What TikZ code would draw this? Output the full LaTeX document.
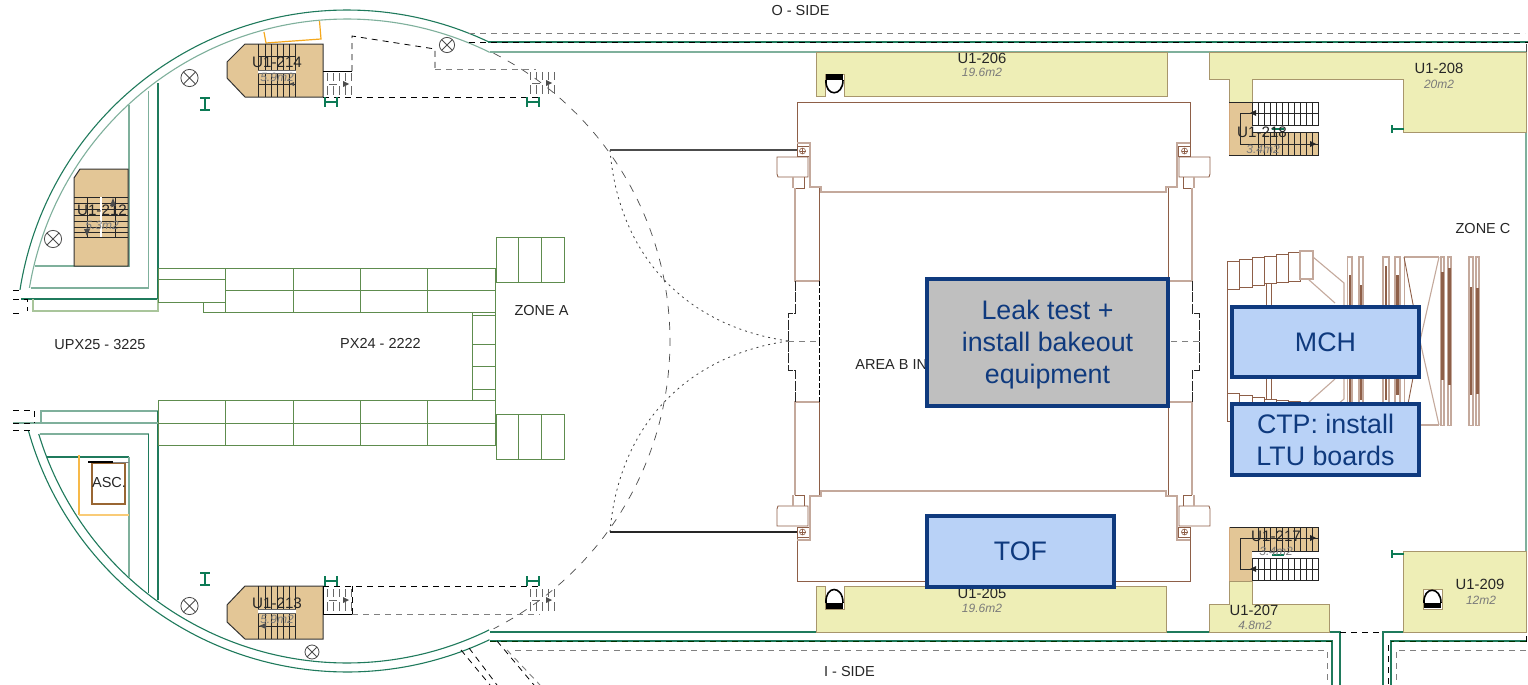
\documentclass[tikz,border=0pt]{standalone}
\usepackage{fontspec}
\setmainfont{Liberation Sans}
\definecolor{wallg}{HTML}{1F7A5C}
\definecolor{walll}{HTML}{7FB09C}
\definecolor{gridg}{HTML}{5E8C4E}
\definecolor{gridl}{HTML}{A9C59B}
\definecolor{brn}{HTML}{8E5F48}
\definecolor{brnl}{HTML}{C4A99C}
\definecolor{roomy}{HTML}{EEEEB6}
\definecolor{roomb}{HTML}{A8966C}
\definecolor{tanr}{HTML}{E3C696}
\definecolor{boxb}{HTML}{0F3A7E}
\definecolor{boxf}{HTML}{B9D2F7}
\definecolor{orng}{HTML}{F5A81C}
\definecolor{txtg}{HTML}{7A7A7A}
\definecolor{doorg}{HTML}{0C7A55}
\tikzset{
  wallD/.style={draw=wallg,line width=0.55pt},
  wallL/.style={draw=walll,line width=0.55pt},
  gridline/.style={draw=gridg,line width=0.5pt},
  br/.style={draw=brn,line width=0.45pt},
  brl/.style={draw=brnl,line width=0.55pt},
  dashK/.style={draw=black,line width=0.4pt,dash pattern=on 3pt off 2.5pt},
  dashG/.style={draw=gray,line width=0.45pt,dash pattern=on 3pt off 2.5pt},
  room/.style={fill=roomy,draw=roomb,line width=0.5pt},
  tanroom/.style={fill=tanr,draw=black!80,line width=0.5pt},
  lbl/.style={font=\fontsize{7.25}{8}\selectfont,text=black!85,inner sep=0pt},
  sub/.style={font=\fontsize{6}{7}\selectfont\itshape,text=txtg,inner sep=0pt},
  bigbox/.style={draw=boxb,line width=2pt,fill=boxf,text=boxb,align=center,
     font=\fontsize{13.4}{15.9}\selectfont,inner sep=0pt,anchor=north west},
  tread/.style={draw=black!85,line width=0.35pt},
  tick/.style={draw=gray!80!black,line width=0.35pt},
  door/.style={draw=doorg,line width=0.65pt},
  xmark/.style={draw=black!70,line width=0.4pt,fill=white},
}
\newcommand{\xcirc}[3]{%
  \draw[xmark] (#1,#2) circle[radius=#3];
  \draw[xmark] (#1-0.7*#3,#2-0.7*#3) -- (#1+0.7*#3,#2+0.7*#3) (#1-0.7*#3,#2+0.7*#3) -- (#1+0.7*#3,#2-0.7*#3);}
\newcommand{\vdoor}[3]{% x, y-top, width : H mark
  \draw[door] (#1,#2) -- (#1,#2+10) (#1+#3,#2) -- (#1+#3,#2+10) (#1,#2+5) -- (#1+#3,#2+5);}
\newcommand{\idoor}[2]{%
  \draw[door] (#1-5,#2-6) -- (#1+5,#2-6) (#1-5,#2+6) -- (#1+5,#2+6) (#1,#2-6) -- (#1,#2+6);}
\newcommand{\minstair}[2]{% x, y-top
  \foreach \d in {4,10,16,22,28}{
    \draw[tick] (#1+\d,#2+1) -- (#1+\d,#2+9) (#1+\d,#2+14) -- (#1+\d,#2+23);}
  \draw[tick] (#1+6,#2+12) -- (#1+14,#2+12);
  \fill[black!70] (#1+26,#2+12) -- (#1+20,#2+9) -- (#1+20,#2+15) -- cycle;}
\begin{document}
\begin{tikzpicture}[x=0.5pt,y=-0.5pt]
\useasboundingbox (0,0) rectangle (1528,685);
\fill[white] (0,0) rectangle (1528,685);

% ---- outer walls: arcs
\draw[wallD] plot[domain=188.9:295.2,samples=90] ({347+331*cos(\x)},{341+331*sin(\x)});
\draw[wallL] plot[domain=189.5:296.3,samples=90] ({347+322*cos(\x)},{341+322*sin(\x)});
\draw[wallD] plot[domain=164.3:64.5,samples=90] ({347+331*cos(\x)},{341+331*sin(\x)});
\draw[wallD] plot[domain=163.2:63.8,samples=90] ({347+322*cos(\x)},{341+322*sin(\x)});
\draw[draw=black!70,line width=0.35pt,dash pattern=on 4pt off 4pt]
  plot[domain=297:423,samples=70] ({347+323*cos(\x)},{341+323*sin(\x)});

% ---- O side
\draw[dashG] (469,33) -- (1525,33);
\draw[wallD] (488,42) -- (1528,42);
\draw[dashK] (469,42) -- (1528,42);
\draw[wallL] (490,52) -- (1526,52);
\draw[wallL] (1526,52) -- (1526,632);
\draw[black!70,line width=0.4pt] (1526,44) -- (1526,52);

% ---- I side
\draw[wallD] (490,632) -- (1340,632) -- (1340,685);
\draw[wallD] (1526,632) -- (1383,632) -- (1383,685);
\draw[wallD] (490,641) -- (1332,641) -- (1332,685);
\draw[wallD] (1526,641) -- (1391,641) -- (1391,685);
\draw[dashK,draw=black!80!green] (490,641) -- (1332,641);
\draw[dashK,draw=black!80!green] (1526,641) -- (1391,641);
\draw[dashK] (1340,632) -- (1383,632);
\draw[dashK] (1388,645) -- (1388,685);
\draw[dashG] (515,650) -- (1327,650) -- (1327,685);
\draw[dashG] (1526,650) -- (1396,650) -- (1396,685);
\draw[dashK] (1526,636) -- (1526,645);
\draw[dashK] (461,650) -- (490,685);
\draw[dashK] (469,648) -- (497,685);
\draw[dashK] (497,641) -- (534,685);
\draw[dashG] (507,650) -- (540,685);

% ---- left walls top
\draw[wallD] (158,83) -- (158,299) -- (21,299);
\draw[wallL] (148.5,91) -- (148.5,288) -- (31,288);
\draw[wallL] (129,105) -- (129,266) -- (35,266);
\draw[draw=gridl,line width=0.6pt] (33,299) -- (33,311) -- (158,311) -- (158,299);
\draw[dashK] (13,290) -- (22,290) (13,299) -- (27,299) -- (27,311) (13,313) -- (21,313);
% ---- left walls bottom
\draw[wallL] (41,423) -- (41,411) -- (158,411);
\draw[wallD] (158,411) -- (158,600);
\draw[wallL] (13,423) -- (158,423);
\draw[wallL] (39.5,434) -- (148.5,434);
\draw[wallD] (148.5,434) -- (148.5,593);
\draw[wallD] (47,457) -- (129,457);
\draw[wallL] (129,457) -- (129,577);
\draw[dashK] (13,410) -- (34,410) -- (34,423) (13,423) -- (34,423) (13,430) -- (30,430);

% ---- orange
\draw[orng,line width=0.6pt] (264,32) -- (266,43) -- (321,39) -- (319.5,21);
\draw[orng!80,line width=0.6pt] (79,455) -- (79,515);
\draw[orng!60,line width=1.2pt] (79,515) -- (129,515);

% ---- ASC
\draw[draw=brown!80!black,fill=white,line width=0.7pt] (92,463) rectangle (125,504);
\draw[black,line width=1pt] (88,462) -- (113,462);
\draw[black!50,line width=0.4pt] (113,462) -- (129,462);
\node[lbl] (asc) at (109,483) {ASC.};

% ---- green grids
\draw[gridline] (225.5,268) rectangle (495,312) (225.5,290) -- (495,290);
\foreach \x in {293,360.5,427.5}{\draw[gridline] (\x,268) -- (\x,312) (\x,400) -- (\x,445);}
\draw[gridline] (225.5,268) -- (158,268) -- (158,302) -- (225.5,302) (158,279) -- (225.5,279);
\draw[gridline] (203,302) -- (203,312) -- (225.5,312);
\draw[gridline] (158,400) rectangle (495,445) (158,423) -- (495,423) (225.5,400) -- (225.5,445);
\draw[gridline] (496,237) rectangle (564,282) (518.5,237) -- (518.5,282) (541.5,237) -- (541.5,282);
\draw[gridline] (496,414) rectangle (564,459) (518.5,414) -- (518.5,459) (541,414) -- (541,459);
\draw[gridline] (472.6,312) -- (472.6,400) (495,312) -- (495,400);
\foreach \y in {315,344,366,389}{\draw[gridline] (472.6,\y) -- (495,\y);}

% ---- stair rooms, left
\draw[tanroom] (245,44) -- (323,44) -- (323,97) -- (245,97) -- (227,78) -- (227,62) -- cycle;
\foreach \x in {258,265,271,277,283,289,295}{\draw[tread] (\x,44) -- (\x,97);}
\draw[tread] (258,56) -- (295,56) (258,84) -- (295,84);
\fill[white] (258,70.5) rectangle (296,73);
\draw[black!60,line width=0.4pt] (258,70) -- (296,70) (258,73.5) -- (296,73.5);
\fill[black!70] (289,84) -- (294,82) -- (294,86) -- cycle;
\node[lbl,font=\fontsize{7.6}{9}\selectfont] (u214) at (277,62) {U1-214};
\node[sub] (a214) at (277,77) {5.9m2};

\draw[tanroom] (245,586) -- (323,586) -- (323,639) -- (245,639) -- (227,622) -- (227,605) -- cycle;
\foreach \x in {258,265,271,277,283,289,295}{\draw[tread] (\x,586) -- (\x,639);}
\draw[tread] (258,626) -- (296,626);
\fill[white] (258,610) rectangle (296,613);
\draw[black!60,line width=0.4pt] (258,609.5) -- (296,609.5) (258,613.5) -- (296,613.5);
\fill[black!70] (259,626) -- (266,623) -- (266,629) -- cycle;
\node[lbl,font=\fontsize{7.6}{9}\selectfont] (u213) at (277,603) {U1-213};
\node[sub] (a213) at (277,619) {5.9m2};

\draw[tanroom] (80,169) -- (128,169) -- (128,266) -- (74,266) -- (74,178) -- cycle;
\foreach \y in {197,203,209,215,221,227,232,237}{\draw[tread] (74,\y) -- (128,\y);}
\draw[tread] (87,197) -- (87,237) (115,197) -- (115,237);
\fill[white] (99.5,197) rectangle (102,237);
\node[lbl,font=\fontsize{7.6}{9}\selectfont] (u212) at (102,210) {U1-212};
\node[sub] (a212) at (102,225) {5.3m2};
\fill[black!70] (113,198) -- (110,206) -- (116,206) -- cycle;
\fill[black!70] (87,236) -- (84,229) -- (90,229) -- cycle;

% ---- dashed stairs, left
\draw[black,line width=0.4pt] (323,71) -- (352,71);
\draw[dashK] (352,71) -- (352,36) -- (435,49) -- (435,69);
\draw[dashG] (435,69) -- (536,69);
\draw[dashK] (323,97) -- (540,97);
\draw[dashK] (323,586) -- (540,586);
\draw[dashK] (352,586) -- (352,614);
\draw[dashG] (352,614) -- (540,614);
\draw[black,line width=0.4pt] (323,587) -- (323,614) -- (352,614);
\minstair{323}{72}
\minstair{526}{71}
\minstair{323}{588}
\minstair{526}{588}
\vdoor{325}{97}{12}
\vdoor{527}{97}{12}
\vdoor{325}{576}{12}
\vdoor{527}{576}{12}
\idoor{205}{104}
\idoor{205}{579}
\xcirc{189.5}{78}{8.6}
\xcirc{447}{45}{7.6}
\xcirc{53}{239}{8.6}
\xcirc{189.5}{606}{8.6}
\xcirc{312}{652}{7}

% ---- dotted and solid rays
\draw[black!75,line width=0.4pt,dash pattern=on 1pt off 2pt] (610,150) .. controls (618,250) and (680,325) .. (788,341);
\draw[black!75,line width=0.4pt,dash pattern=on 1pt off 2pt] (610,532) .. controls (618,432) and (680,357) .. (788,341);
\draw[black!70,line width=0.55pt] (610,150) -- (797,150);
\draw[black!85,line width=0.55pt] (610,532) -- (797,532);

% ---- central frame (one quarter, mirrored)
\foreach \tf in {{},{shift={(1987,0)},xscale=-1},{shift={(0,683)},yscale=-1},{shift={(1987,683)},xscale=-1,yscale=-1}}{
\begin{scope}[every path/.append style={},/utils/exec={\expandafter\tikzset\expandafter{\tf}}]
  \draw[br] (993.5,102) -- (797,102) -- (797,146);
  \draw[br] (797,146) rectangle (809,156);
  \draw[brl] (797,143) -- (810,143) -- (810,187) -- (821,187) -- (821,192) -- (993.5,192);
  \draw[br,line width=0.3pt] (802.5,151) circle[radius=3];
  \draw[br,line width=0.3pt] (799.5,151) -- (805.5,151) (802.5,148) -- (802.5,154);
  \draw[br] (777,157) -- (808,157) -- (808,177) -- (778,177) -- (777,174) -- cycle;
  \draw[brl] (793,177) -- (793,188);
  \draw[br] (804,177) -- (804,188) -- (795,188);
  \draw[brl] (795,188) -- (795,281) -- (819,281);
  \draw[br] (819,188) -- (819,281);
  \draw[dashK,dash pattern=on 2.5pt off 1pt] (819,281) -- (819,341.5);
  \draw[black!85,line width=0.4pt,dash pattern=on 5pt off 0.7pt] (795,281) -- (795,313) -- (788,313) -- (788,341.5);
  \draw[dashK,draw=gray] (788,341.5) -- (819,341.5);
\end{scope}}

% ---- yellow rooms
\draw[room] (816,52) -- (1167,52) -- (1167,96) -- (844,96) -- (844,74) -- (825,74) -- (825,96) -- (816,96) -- cycle;
\fill[black] (826,74) rectangle (843,80);
\draw[black,line width=0.8pt,fill=white] (826,80) .. controls (825,97) and (843,97) .. (843,80);
\draw[room] (816,586) -- (1166,586) -- (1166,632) -- (816,632) -- cycle;
\fill[white] (825,586) rectangle (844,609);
\draw[roomb,line width=0.5pt] (825,586) -- (825,609) -- (844,609) -- (844,586);
\draw[black,line width=0.8pt,fill=white] (826,603) .. controls (825,585) and (843,585) .. (843,603);
\fill[black] (826,603) rectangle (843,609);

\draw[room] (1209,52) -- (1526,52) -- (1526,132) -- (1403.5,132) -- (1403.5,79) -- (1252,79) -- (1252,102) -- (1229,102) -- (1229,79) -- (1209,79) -- cycle;
\draw[room] (1403.5,551) -- (1526,551) -- (1526,632) -- (1403.5,632) -- cycle;
\fill[white] (1423,589) rectangle (1442,609);
\draw[roomb,line width=0.5pt] (1423,589) rectangle (1442,609);
\draw[black,line width=0.8pt,fill=white] (1424,603) .. controls (1423,586) and (1441,586) .. (1441,603);
\fill[black] (1424,603) rectangle (1441,608);
\draw[room] (1209,632) -- (1209,604) -- (1229,604) -- (1229,581) -- (1252,581) -- (1252,604) -- (1329,604) -- (1329,632) -- cycle;

% ---- stairs right
\fill[tanr] (1229,102) rectangle (1252,155);
\fill[tanr] (1252,132) rectangle (1318,155);
\draw[black!85,line width=0.5pt] (1252,102) rectangle (1318,125) (1229,155) -- (1318,155) -- (1318,132) -- (1252,132);
\draw[brown!70,line width=0.4pt] (1229,102) -- (1229,155);
\draw[black!85,line width=0.4pt] (1252,102) -- (1229,102);
\foreach \x in {1258,1264,1270,1276,1282,1288,1294,1300,1306,1312}{\draw[tread] (\x,102) -- (\x,125) (\x,132) -- (\x,155);}
\draw[black!85,line width=0.45pt] (1318,113) -- (1240,113) -- (1240,144) -- (1318,144);
\fill[black!85] (1256,110) -- (1256,116) -- (1250,113) -- cycle;
\fill[black!85] (1310,141) -- (1310,147) -- (1316,144) -- cycle;
\draw[door] (1272,129) -- (1284,129);

\fill[tanr] (1229,527) rectangle (1252,581);
\fill[tanr] (1252,527) rectangle (1318,551);
\draw[black!85,line width=0.5pt] (1252,558) rectangle (1318,580) (1252,551) -- (1318,551) -- (1318,527) -- (1229,527);
\draw[brown!70,line width=0.4pt] (1229,527) -- (1229,581);
\foreach \x in {1258,1264,1270,1276,1282,1288,1294,1300,1306,1312}{\draw[tread] (\x,527) -- (\x,551) (\x,558) -- (\x,580);}
\draw[black!85,line width=0.45pt] (1318,538) -- (1240,538) -- (1240,569) -- (1318,569);
\fill[black!85] (1256,566) -- (1256,572) -- (1250,569) -- cycle;
\fill[black!85] (1310,535) -- (1310,541) -- (1316,538) -- cycle;
\draw[door] (1272,555) -- (1284,555);
\draw[door] (1392,125) -- (1392,133) (1392,129) -- (1403.5,129);
\draw[door] (1392,550) -- (1392,558) (1392,554) -- (1403.5,554);

% ---- zone C apparatus
\foreach \tf in {{},{shift={(0,682)},yscale=-1}}{
\begin{scope}[/utils/exec={\expandafter\tikzset\expandafter{\tf}}]
  \draw[br] (1227,261) rectangle (1239,289);
  \draw[br] (1239,259) rectangle (1252,287);
  \draw[br] (1252,257) rectangle (1264,285);
  \draw[br] (1264,256) rectangle (1276,283);
  \draw[br] (1276,254) rectangle (1288,282);
  \draw[br] (1288,252) rectangle (1300,281);
  \draw[brl] (1300,251) rectangle (1313,279);
  \draw[br] (1266,283) -- (1266,306) (1271,283) -- (1271,306);
  \draw[brl] (1313,257) -- (1344,283) -- (1344,306);
  \draw[brl] (1308,279) -- (1335,303);
  \draw[br] (1227,289) -- (1239,289) (1227,289) -- (1227,341);
  \draw[brl] (1404,257) -- (1439,257);
  \draw[br,draw=brnl] (1404,257) -- (1404,341);
  \draw[br] (1404,257) -- (1420,341);
  \draw[brl] (1439,257) -- (1420,341);
\end{scope}}
\foreach \xa/\xb/\ya/\yb in {1347.5/1352/275/405, 1359/1363/285/400, 1383/1389/266/400, 1395/1400/275/395, 1441/1444/272/380, 1448/1451/268/385, 1469/1473/287/395, 1476/1479/288/394}{
  \draw[brl] (\xa,257) rectangle (\xb,425.5);
  \fill[brn] ({(\xa+\xb)/2-1.1},\ya) rectangle ({(\xa+\xb)/2+1.1},\yb);
}

% ---- labels
\node[lbl] (oside) at (800.5,11) {O - SIDE};
\node[lbl] (iside) at (849.5,672) {I - SIDE};
\node[lbl] (zonea) at (541.5,311) {ZONE A};
\node[lbl] (zonec) at (1483,229) {ZONE C};
\node[lbl] (upx) at (100,345) {UPX25 - 3225};
\node[lbl] (px) at (380.5,343) {PX24 - 2222};
\node[lbl,anchor=west] (areab) at (855,365) {AREA B IN};
\node[lbl,font=\fontsize{7.4}{9}\selectfont] (u206) at (982,58) {U1-206};
\node[sub] (a206) at (982,72) {19.6m2};
\node[lbl,font=\fontsize{7.4}{9}\selectfont] (u208) at (1439,68) {U1-208};
\node[sub] (a208) at (1439,84) {20m2};
\node[lbl,font=\fontsize{7.4}{9}\selectfont] (u205) at (982,593) {U1-205};
\node[sub] (a205) at (982,608) {19.6m2};
\node[lbl,font=\fontsize{7.4}{9}\selectfont] (u209) at (1480,584) {U1-209};
\node[sub] (a209) at (1481,600) {12m2};
\node[lbl,font=\fontsize{7.4}{9}\selectfont] (u207) at (1254,610) {U1-207};
\node[sub] (a207) at (1255,625) {4.8m2};
\node[lbl,font=\fontsize{7.6}{9}\selectfont] (u218) at (1262,132) {U1-218};
\node[sub] (a218) at (1263,149) {3.4m2};
\node[lbl,font=\fontsize{7.6}{9}\selectfont] (u217) at (1276,536) {U1-217};
\node[sub] (a217) at (1276,551) {3.4m2};

% ---- callout boxes
\node[bigbox,fill=black!25,minimum width=120.5pt,minimum height=63.5pt] (leak) at (925,277) {\rule{0pt}{12pt}Leak test +\\install bakeout\\equipment};
\node[bigbox,minimum width=93.5pt,minimum height=35pt] (mch) at (1230,305) {MCH};
\node[bigbox,minimum width=93.5pt,minimum height=35.5pt] (ctp) at (1230,402) {\rule{0pt}{10.5pt}CTP: install\\LTU boards};
\node[bigbox,minimum width=93.5pt,minimum height=35.5pt] (tof) at (925,514) {TOF};
\end{tikzpicture}
\end{document}
